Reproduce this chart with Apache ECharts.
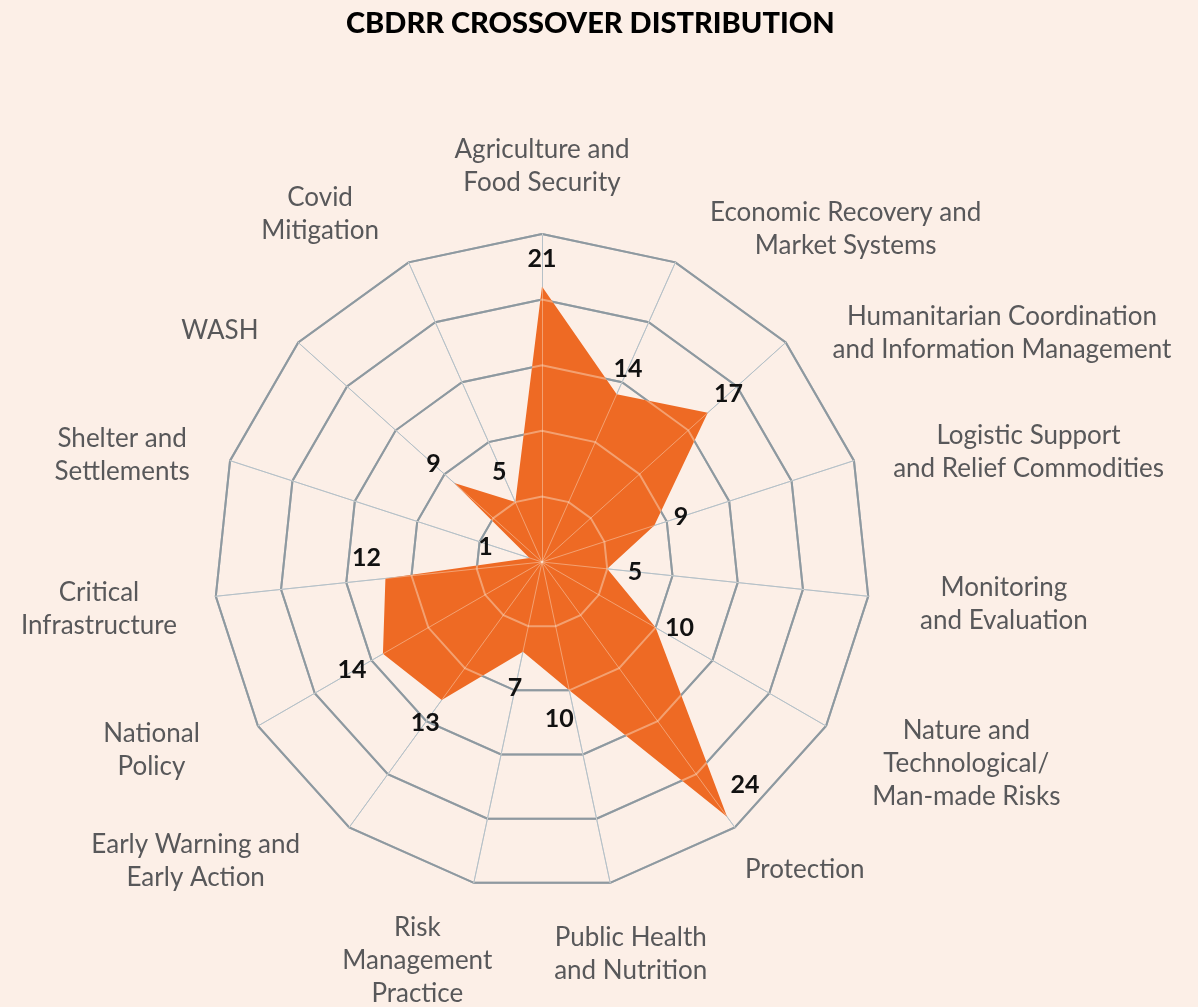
<!DOCTYPE html>
<html>
<head>
<meta charset="utf-8">
<script src="https://cdn.jsdelivr.net/npm/echarts@6/dist/echarts.min.js"></script>
<style>
  html, body { margin: 0; padding: 0; background: #fcefe7; }
  #radar_chart { width: 1198px; height: 1007px; }
</style>
</head>
<body>
<div id="radar_chart"></div>
<script>
// sectors, clockwise from the top
var sectors = [
    'Agriculture and\nFood Security',
    'Economic Recovery and\nMarket Systems',
    'Humanitarian Coordination\nand Information Management',
    'Logistic Support\nand Relief Commodities',
    'Monitoring\nand Evaluation',
    'Nature and\nTechnological/\nMan-made Risks',
    'Protection',
    'Public Health\nand Nutrition',
    'Risk\nManagement\nPractice',
    'Early Warning and\nEarly Action',
    'National\nPolicy',
    'Critical\nInfrastructure',
    'Shelter and\nSettlements',
    'WASH',
    'Covid\nMitigation'
];
var crossover = [21, 14, 17, 9, 5, 10, 24, 10, 7, 13, 14, 12, 1, 9, 5];
var axisMax = 25;

var center = [542, 562];
var radius = 328;
var orange = '#ee6a24';

// echarts radar runs counter-clockwise, so feed it the reversed order after the first
var order = [0];
for (var k = sectors.length - 1; k > 0; k--) order.push(k);
var indicators = order.map(function (i) { return { name: sectors[i], max: axisMax }; });
var radarValues = order.map(function (i) { return crossover[i]; });

var step = 360 / sectors.length;
function dirOf(i) {
    var a = i * step * Math.PI / 180;
    return [Math.sin(a), -Math.cos(a)];
}

// value labels pushed out along each spoke; a few sit elsewhere in the original
var valueNudge = {
    5: [24, 0], 6: [18, -32], 7: [-10, 29], 8: [-8, 36],
    10: [-31, 16], 11: [-19, -21], 12: [-44, -11], 14: [-16, -30]
};
var valuePoints = crossover.map(function (v, i) {
    var d = dirOf(i);
    var off = valueNudge[i] || [28 * d[0], 28 * d[1]];
    return { value: [v, i], label: { offset: off } };
});

// sector names placed outside the outer ring, with hand nudges like the original
var nameGap = 36;
var nameNudge = [
    [0, 1], [20, 0], [20, 15], [5, 3], [16, 4], [15, 20], [-11, 13], [13, 3],
    [-49, -7], [-28, 5], [-27, 6], [-3, 9], [-6, 6], [-13, 12], [-15, -15]
];
var namePoints = sectors.map(function (s, i) {
    var d = dirOf(i);
    var align = d[0] > 0.25 ? 'left' : (d[0] < -0.25 ? 'right' : 'center');
    var vAlign = d[1] < -0.95 ? 'bottom' : (d[1] > 0.9 ? 'top' : 'middle');
    return {
        value: [axisMax, i],
        name: s,
        label: {
            align: align,
            verticalAlign: vAlign,
            offset: [nameGap * d[0] + nameNudge[i][0], nameGap * d[1] + nameNudge[i][1]]
        }
    };
});

var dom = document.getElementById('radar_chart');
var myChart = echarts.init(dom);
var option = {
    backgroundColor: '#fcefe7',
    animation: false,
    title: {
        text: 'CBDRR CROSSOVER DISTRIBUTION',
        left: 341,
        top: 4,
        textStyle: { fontFamily: 'Lato', fontWeight: 900, fontSize: 29, color: '#000' }
    },
    radar: [
        {
            center: center,
            radius: radius,
            splitNumber: 5,
            shape: 'polygon',
            indicator: indicators,
            axisName: { show: false },
            splitArea: { show: false },
            splitLine: { lineStyle: { color: '#405e76', width: 2 } },
            axisLine: { lineStyle: { color: '#83a1b8', width: 1 } }
        },
        {
            // light copy of the grid drawn over the filled area
            center: center,
            radius: radius,
            splitNumber: 5,
            shape: 'polygon',
            indicator: indicators,
            z: 5,
            axisName: { show: false },
            splitArea: { show: false },
            splitLine: { lineStyle: { color: 'rgba(250,235,220,0.42)', width: 2 } },
            axisLine: { lineStyle: { color: 'rgba(250,235,220,0.42)', width: 1 } }
        }
    ],
    polar: { center: center, radius: radius },
    angleAxis: {
        type: 'category',
        data: sectors,
        startAngle: 90,
        clockwise: true,
        boundaryGap: false,
        show: false
    },
    radiusAxis: { min: 0, max: axisMax, show: false },
    series: [
        {
            type: 'radar',
            radarIndex: 0,
            symbol: 'none',
            lineStyle: { width: 0 },
            areaStyle: { color: orange, opacity: 1 },
            data: [{ value: radarValues, name: 'Crossover' }]
        },
        {
            type: 'scatter',
            coordinateSystem: 'polar',
            symbolSize: 0,
            clip: false,
            silent: true,
            z: 6,
            itemStyle: { opacity: 1 },
            label: {
                show: true,
                position: 'inside',
                formatter: function (p) { return p.value[0]; },
                fontFamily: 'Lato',
                fontWeight: 'bold',
                fontSize: 25,
                color: '#111'
            },
            data: valuePoints
        },
        {
            type: 'scatter',
            coordinateSystem: 'polar',
            symbolSize: 0,
            clip: false,
            silent: true,
            z: 6,
            itemStyle: { opacity: 1 },
            label: {
                show: true,
                position: 'inside',
                formatter: function (p) {
                    return p.name.split('\n').map(function (s) { return '{c|' + s + '}'; }).join('\n');
                },
                rich: {
                    c: { align: 'center', fontFamily: 'Lato', fontSize: 26, lineHeight: 33, color: '#58585a' }
                }
            },
            data: namePoints
        }
    ]
};
if (option && typeof option === 'object') {
    myChart.setOption(option, true);
}
window.onresize = myChart.resize;
</script>
</body>
</html>
